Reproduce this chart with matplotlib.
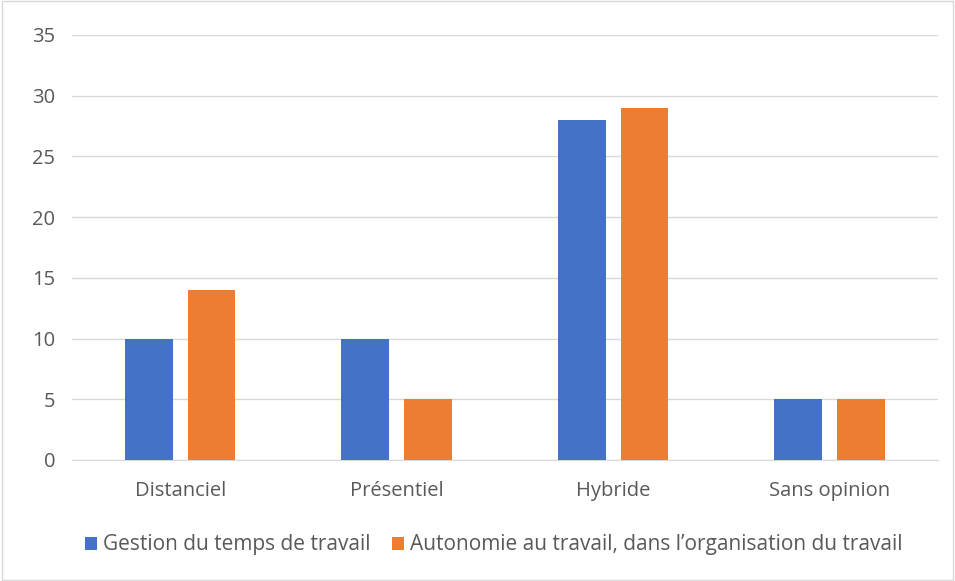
import matplotlib
matplotlib.use("Agg")
import matplotlib.pyplot as plt
import numpy as np

categories = ["Distanciel", "Présentiel", "Hybride", "Sans opinion"]
gestion = [10, 10, 28, 5]
autonomie = [14, 5, 29, 5]
series_labels = ["Gestion du temps de travail",
                 "Autonomie au travail, dans l\u2019organisation du travail"]
y_ticks = [0, 5, 10, 15, 20, 25, 30, 35]

plt.rcParams['font.family'] = ['Open Sans', 'DejaVu Sans']

fig = plt.figure(figsize=(9.55, 5.81), dpi=100)
ax = fig.add_axes([0.0754, 0.2083, 0.9066, 0.7315])

x = np.arange(len(categories))
w = 0.22
ax.bar(x - 0.145, gestion, w, color="#4472C4", label=series_labels[0], zorder=3)
ax.bar(x + 0.145, autonomie, w, color="#ED7D31", label=series_labels[1], zorder=3)

ax.set_xlim(-0.5, len(categories) - 0.5)
ax.set_ylim(0, 35)
ax.set_yticks(y_ticks)
ax.set_xticks(x)
ax.set_xticklabels(categories)
ax.grid(axis="y", color="#D9D9D9", linewidth=1, zorder=0)
for s in ["top", "right", "left"]:
    ax.spines[s].set_visible(False)
ax.spines["bottom"].set_color("#D9D9D9")
ax.tick_params(axis="both", length=0, labelsize=14.5, colors="#595959")
ax.tick_params(axis="x", pad=15)
ax.tick_params(axis="y", pad=12)

leg = fig.legend(loc="center", bbox_to_anchor=(0.517, 0.062), ncol=2, frameon=False,
                 fontsize=15, handlelength=0.6, handleheight=0.6,
                 columnspacing=1.0, handletextpad=0.3)
for t in leg.get_texts():
    t.set_color("#595959")

# light frame around the chart
fig.patches.append(plt.Rectangle((0.002, 0.002), 0.996, 0.996, transform=fig.transFigure,
                                 fill=False, edgecolor="#D9D9D9", linewidth=1))

fig.savefig("out.png", dpi=100)
